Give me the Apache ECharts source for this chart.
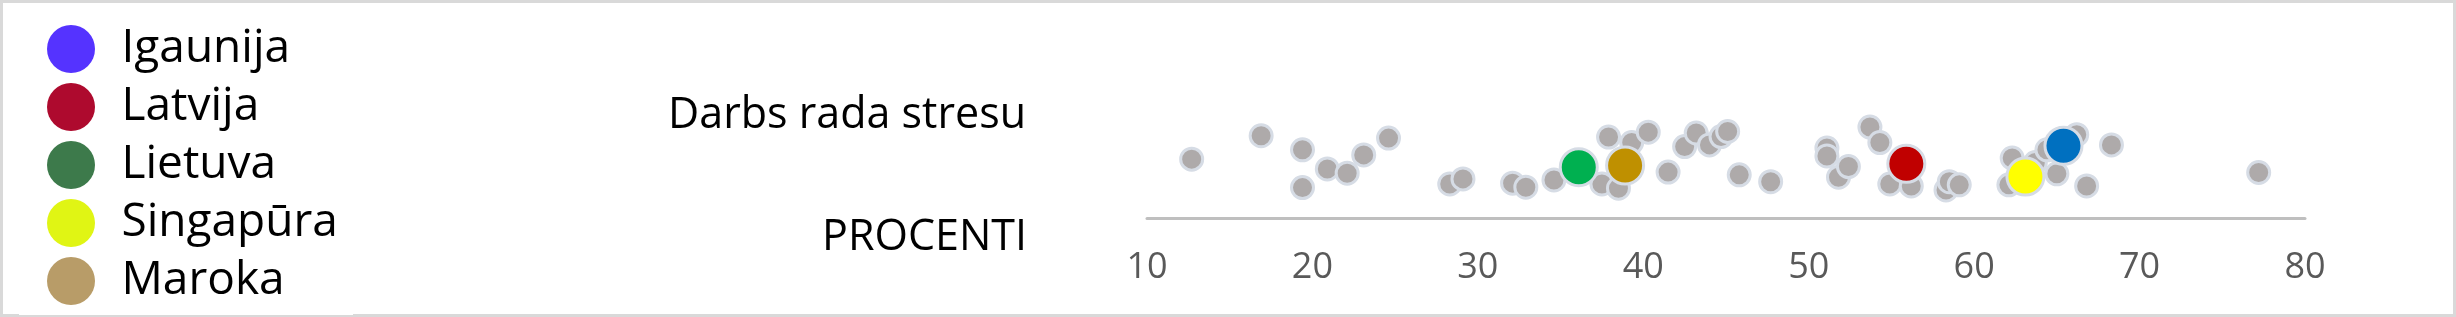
<!DOCTYPE html>
<html>
<head>
<meta charset="utf-8">
<script src="https://cdn.jsdelivr.net/npm/echarts@6/dist/echarts.min.js"></script>
<style>
  html, body { margin: 0; padding: 0; background: #fff; }
  #main { width: 2456px; height: 317px; }
</style>
</head>
<body>
<div id="main"></div>
<script>
// ---- data ----
const categories = ['Darbs rada stresu'];
const axisTitle = 'PROCENTI';
const xTicks = [10, 20, 30, 40, 50, 60, 70, 80];

// other countries (grey dots): value (%) and vertical jitter (0-96 of plot height)
const otherValues = [12.7, 16.9, 19.4, 19.4, 20.9, 22.1, 23.1, 24.6,
  28.3, 29.1, 32.1, 32.9, 34.6, 37.5, 37.9, 38.5, 39.3, 40.3, 41.5, 42.5,
  43.2, 44.0, 44.7, 45.1, 45.8, 47.7, 51.1, 51.1, 51.8, 52.4, 53.7, 54.3, 54.9, 56.2, 58.3, 58.5, 59.1,
  62.1, 62.3, 63.7, 64.4, 65.0, 66.2, 66.8, 68.3, 77.2];
const otherJitter = [27.7, 38.7, 32.1, 14.3, 23.1, 21.1, 29.7, 37.6,
  16.0, 18.4, 16.4, 14.5, 17.9, 16.0, 38.1, 14.0, 35.5, 40.4, 21.6, 33.6,
  40.0, 34.4, 38.3, 40.7, 20.3, 17.1, 32.9, 29.2, 19.2, 24.2, 42.8, 35.5, 16.0, 15.1, 13.2, 17.1, 15.6,
  15.6, 28.2, 26.1, 32.1, 20.8, 39.2, 15.1, 34.4, 21.4];

// highlighted countries
const countryNames = ['Igaunija', 'Latvija', 'Lietuva', 'Singapūra', 'Maroka'];
const countryValues = [65.4, 55.9, 36.1, 63.1, 38.9];
const countryJitter = [34.0, 25.5, 23.9, 19.5, 24.7];

// ---- styles ----
const dotColors = ['#0070c0', '#c00000', '#00b050', '#ffff00', '#bf9000'];
const legendColors = ['#5533ff', '#ae0a2e', '#3d7a4b', '#e0f514', '#b89c68'];
const FONT = '"Open Sans", "Noto Sans", sans-serif';
const ELLIPSE = 'path://M0,50A50,50,0,1,1,100,50A50,50,0,1,1,0,50Z';

const chart = echarts.init(document.getElementById('main'), null, { renderer: 'canvas' });

const series = [{
  name: 'Citas valstis',
  type: 'scatter',
  data: otherValues.map((v, i) => [v, otherJitter[i]]),
  symbol: 'circle',
  symbolSize: 22,
  itemStyle: { color: '#aeaaaa', borderColor: '#d6dce5', borderWidth: 3, opacity: 1 },
  emphasis: { disabled: true },
  z: 2
}];
countryNames.forEach((n, i) => {
  series.push({
    name: n,
    type: 'scatter',
    data: [[countryValues[i], countryJitter[i]]],
    symbol: 'circle',
    symbolSize: 37,
    itemStyle: { color: dotColors[i], borderColor: '#d6dce5', borderWidth: 3, opacity: 1 },
    emphasis: { disabled: true },
    z: 3
  });
});

chart.setOption({
  animation: false,
  backgroundColor: '#ffffff',
  textStyle: { fontFamily: FONT },
  graphic: [
    { type: 'rect', z: 100, silent: true,
      shape: { x: 1.5, y: 1.5, width: 2453, height: 314 },
      style: { fill: 'none', stroke: '#d9d9d9', lineWidth: 3 } },
    { type: 'rect', z: 101, silent: true,
      shape: { x: 19, y: 312, width: 334, height: 3 },
      style: { fill: '#ffffff' } }
  ],
  legend: {
    orient: 'vertical',
    left: 42,
    top: 20,
    itemWidth: 53,
    itemHeight: 48,
    itemGap: 10,
    icon: ELLIPSE,
    selectedMode: false,
    data: countryNames.map((n, i) => ({
      name: n,
      itemStyle: { color: legendColors[i], borderWidth: 0 }
    })),
    textStyle: { fontFamily: FONT, fontSize: 46, color: '#000000', padding: [0, 0, 0, 19], lineHeight: 48 }
  },
  grid: { left: 1147, right: 151, top: 14, bottom: 99 },
  xAxis: {
    type: 'value',
    min: xTicks[0],
    max: xTicks[xTicks.length - 1],
    interval: xTicks[1] - xTicks[0],
    axisLine: { show: true, onZero: false, lineStyle: { color: '#bfbfbf', width: 3 } },
    axisTick: { show: false },
    splitLine: { show: false },
    axisLabel: { fontFamily: FONT, fontSize: 36, color: '#595959', margin: 32 },
    name: axisTitle,
    nameLocation: 'start',
    nameGap: 120,
    nameTextStyle: { fontFamily: FONT, fontSize: 43, color: '#000000', verticalAlign: 'top', lineHeight: 39 }
  },
  yAxis: [{
    type: 'value', min: 0, max: 96, show: false
  }, {
    type: 'category',
    data: categories,
    position: 'left',
    axisLine: { show: false },
    axisTick: { show: false },
    splitLine: { show: false },
    axisLabel: { fontFamily: FONT, fontSize: 43, color: '#000000', margin: 121 }
  }],
  series: series
});
</script>
</body>
</html>
